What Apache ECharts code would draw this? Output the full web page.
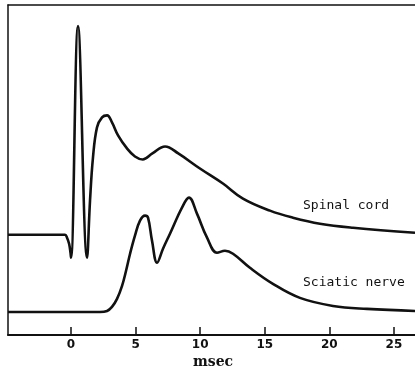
<!DOCTYPE html>
<html>
<head>
<meta charset="utf-8">
<script src="https://cdn.jsdelivr.net/npm/echarts@6/dist/echarts.min.js"></script>
<style>
html,body{margin:0;padding:0;background:#fff;}
#chart{width:415px;height:372px;}
</style>
</head>
<body>
<div id="chart"></div>
<script>
// time in msec
const xTicks = [0, 5, 10, 15, 20, 25];
const spinalT = [-4.88, -0.85, -0.46, -0.31, -0.15, -0.04, 0, 0.54, 1.24, 1.47, 1.70, 2.01, 2.40, 2.79, 3.17, 3.64, 4.33, 4.95, 5.55, 6.30, 7.28, 8.30, 9.98, 11.76, 13.31, 15.40, 17.18, 19.27, 21.83, 26.63];
const spinalV = [100, 100, 100, 97, 91, 82, 77, 308, 77, 134, 177, 207, 217, 219, 212, 199, 186, 178, 175, 181, 188, 181, 166, 151, 136, 124, 117, 111, 107, 102];
const sciaticT = [-4.88, 2.24, 2.79, 3.17, 3.56, 3.95, 4.26, 4.57, 4.95, 5.34, 5.73, 5.96, 6.27, 6.66, 7.12, 7.66, 8.59, 9.13, 9.75, 10.53, 11.30, 11.92, 12.54, 13.85, 15.63, 17.72, 20.28, 22.91, 26.63];
const sciaticV = [23, 23, 24, 28, 36, 49, 64, 81, 99, 114, 119, 117, 94, 72, 86, 101, 127, 137, 121, 97, 82, 84, 81, 67, 51, 37, 29, 26, 24];

const zip = (a, b) => a.map((v, i) => [v, b[i]]);
const chart = echarts.init(document.getElementById('chart'));
const lineStyle = { color: '#111', width: 2.6 };
chart.setOption({
  animation: false,
  grid: { left: 8, right: 0, top: 5, bottom: 37 },
  xAxis: [{
    type: 'value', min: -4.88, max: 26.63, position: 'bottom',
    splitLine: { show: false },
    axisLine: { show: true, lineStyle: { color: '#111', width: 2 } },
    axisTick: { show: true, inside: true, length: 8, customValues: xTicks, lineStyle: { color: '#111', width: 1.5 } },
    axisLabel: { customValues: xTicks, color: '#111', fontFamily: 'DejaVu Sans', fontWeight: 'bold', fontSize: 12, margin: 4 }
  }, {
    type: 'value', min: -4.88, max: 26.63, position: 'top',
    splitLine: { show: false },
    axisLine: { show: true, onZero: false, lineStyle: { color: '#111', width: 1.5 } },
    axisTick: { show: false }, axisLabel: { show: false }
  }],
  yAxis: {
    type: 'value', min: 0, max: 329,
    splitLine: { show: false },
    axisLine: { show: true, onZero: false, lineStyle: { color: '#111', width: 1.5 } },
    axisTick: { show: false }, axisLabel: { show: false }
  },
  series: [
    { name: 'Spinal cord', type: 'line', data: zip(spinalT, spinalV), showSymbol: false, smooth: 0.4, lineStyle },
    { name: 'Sciatic nerve', type: 'line', data: zip(sciaticT, sciaticV), showSymbol: false, smooth: 0.4, lineStyle }
  ],
  graphic: [
    { type: 'text', left: 303, top: 199, style: { text: 'Spinal cord', font: '13px "DejaVu Sans Mono"', fill: '#111' } },
    { type: 'text', left: 303, top: 276, style: { text: 'Sciatic nerve', font: '13px "DejaVu Sans Mono"', fill: '#111' } },
    { type: 'text', left: 193, top: 355, style: { text: 'msec', font: 'bold 14px "DejaVu Serif"', fill: '#111' } }
  ]
});
</script>
</body>
</html>
